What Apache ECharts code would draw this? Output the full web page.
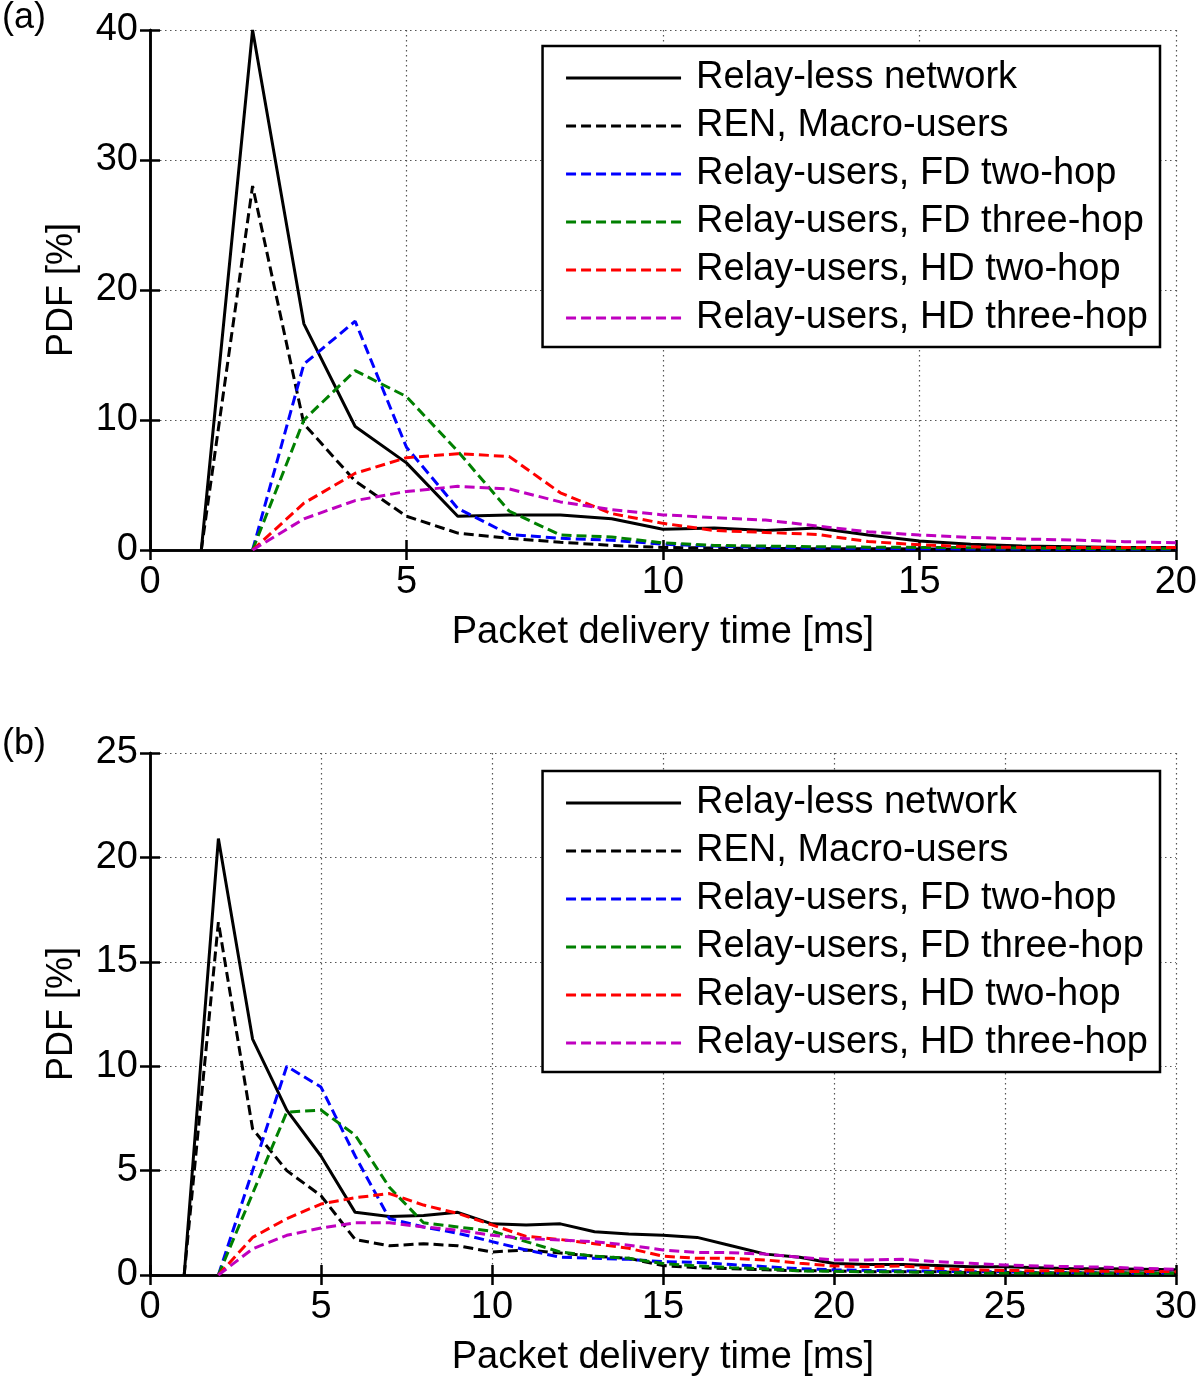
<!DOCTYPE html>
<html>
<head>
<meta charset="utf-8">
<script src="https://cdn.jsdelivr.net/npm/echarts@6/dist/echarts.min.js"></script>
<style>
html,body{margin:0;padding:0;background:#fff;}
#chart{width:1200px;height:1380px;}
</style>
</head>
<body>
<div id="chart"></div>
<script>
// ---------- data ----------
const seriesNames = [
  'Relay-less network',
  'REN, Macro-users',
  'Relay-users, FD two-hop',
  'Relay-users, FD three-hop',
  'Relay-users, HD two-hop',
  'Relay-users, HD three-hop'
];
const seriesColors = ['#000000', '#000000', '#0000ff', '#008000', '#ff0000', '#bf00bf'];

// panel (a): delivery time 1..20 ms
const timeA = [1,2,3,4,5,6,7,8,9,10,11,12,13,14,15,16,17,18,19,20];
const relayLessA = [0, 40, 17.4, 9.5, 6.7, 2.6, 2.7, 2.7, 2.4, 1.6, 1.7, 1.5, 1.7, 1.15, 0.7, 0.45, 0.3, 0.25, 0.2, 0.2];
const renMacroA  = [0, 28, 9.7, 5.3, 2.6, 1.3, 0.9, 0.6, 0.35, 0.2, 0.15, 0.12, 0.1, 0.1, 0.08, 0.07, 0.05, 0.05, 0.05, 0.05];
const fdTwoA     = [null, 0, 14.3, 17.6, 7.9, 3.2, 1.2, 0.9, 0.75, 0.45, 0.3, 0.2, 0.15, 0.12, 0.1, 0.08, 0.07, 0.06, 0.05, 0.05];
const fdThreeA   = [null, 0, 10.0, 13.8, 11.8, 7.6, 3.0, 1.15, 1.0, 0.55, 0.35, 0.3, 0.25, 0.22, 0.2, 0.18, 0.15, 0.12, 0.1, 0.1];
const hdTwoA     = [null, 0, 3.6, 5.9, 7.1, 7.4, 7.2, 4.4, 2.8, 2.05, 1.5, 1.35, 1.2, 0.65, 0.4, 0.25, 0.2, 0.2, 0.2, 0.2];
const hdThreeA   = [null, 0, 2.4, 3.8, 4.5, 4.9, 4.7, 3.7, 3.1, 2.7, 2.5, 2.3, 1.85, 1.4, 1.15, 0.97, 0.85, 0.77, 0.64, 0.56];

// panel (b): delivery time 1..30 ms
const timeB = [1,2,3,4,5,6,7,8,9,10,11,12,13,14,15,16,17,18,19,20,21,22,23,24,25,26,27,28,29,30];
const relayLessB = [0, 20.9, 11.3, 7.9, 5.7, 3.0, 2.8, 2.85, 3.0, 2.45, 2.4, 2.45, 2.07, 1.96, 1.9, 1.8, 1.4, 1.0, 0.85, 0.55, 0.5, 0.5, 0.45, 0.4, 0.4, 0.35, 0.3, 0.3, 0.28, 0.25];
const renMacroB  = [0, 16.9, 7.0, 5.0, 3.8, 1.7, 1.4, 1.5, 1.4, 1.1, 1.2, 1.05, 0.9, 0.8, 0.45, 0.35, 0.3, 0.25, 0.2, 0.2, 0.15, 0.15, 0.15, 0.12, 0.12, 0.1, 0.1, 0.1, 0.1, 0.1];
const fdTwoB     = [null, 0, 5.0, 10.0, 9.0, 5.7, 2.7, 2.3, 2.0, 1.6, 1.2, 0.85, 0.8, 0.75, 0.64, 0.6, 0.5, 0.4, 0.3, 0.25, 0.22, 0.2, 0.18, 0.15, 0.15, 0.12, 0.12, 0.1, 0.1, 0.1];
const fdThreeB   = [null, 0, 3.9, 7.8, 7.9, 6.7, 4.2, 2.5, 2.3, 2.1, 1.6, 1.1, 0.9, 0.8, 0.55, 0.43, 0.35, 0.3, 0.2, 0.18, 0.15, 0.15, 0.12, 0.1, 0.1, 0.1, 0.08, 0.08, 0.08, 0.08];
const hdTwoB     = [null, 0, 1.8, 2.7, 3.4, 3.7, 3.9, 3.35, 2.95, 2.4, 1.85, 1.7, 1.5, 1.28, 0.9, 0.8, 0.8, 0.72, 0.56, 0.43, 0.4, 0.43, 0.32, 0.24, 0.22, 0.2, 0.2, 0.18, 0.17, 0.16];
const hdThreeB   = [null, 0, 1.25, 1.9, 2.25, 2.5, 2.5, 2.3, 2.15, 1.9, 1.75, 1.67, 1.6, 1.43, 1.2, 1.08, 1.07, 1.0, 0.85, 0.72, 0.72, 0.75, 0.64, 0.56, 0.48, 0.43, 0.4, 0.37, 0.32, 0.27];

const panelA = [relayLessA, renMacroA, fdTwoA, fdThreeA, hdTwoA, hdThreeA];
const panelB = [relayLessB, renMacroB, fdTwoB, fdThreeB, hdTwoB, hdThreeB];

// axis settings
const xTicksA = {min: 0, max: 20, interval: 5};
const yTicksA = {min: 0, max: 40, interval: 10};
const xTicksB = {min: 0, max: 30, interval: 5};
const yTicksB = {min: 0, max: 25, interval: 5};

// ---------- build ----------
const FONT = 'Liberation Sans, Arial, sans-serif';
const chart = echarts.init(document.getElementById('chart'), null, {renderer: 'canvas'});

function pairs(xs, ys) {
  const out = [];
  xs.forEach((x, i) => { if (ys[i] !== null && ys[i] !== undefined) out.push([x, ys[i]]); });
  return out;
}

const frameLine = {show: true, lineStyle: {color: '#000', width: 2.5}};
const tickIn = {show: true, inside: true, length: 10, lineStyle: {color: '#000', width: 2.5}};
const gridSplit = {show: true, lineStyle: {color: '#555', width: 1.2, type: [1.5, 3.5]}};
const labelStyle = {color: '#000', fontSize: 38, fontFamily: FONT};

function mainX(grid, t) {
  return Object.assign({
    type: 'value', gridIndex: grid, position: 'bottom',
    axisLine: frameLine, axisTick: tickIn, splitLine: gridSplit,
    axisLabel: Object.assign({margin: 14}, labelStyle),
    name: 'Packet delivery time [ms]', nameLocation: 'middle', nameGap: 64,
    nameTextStyle: {color: '#000', fontSize: 38, fontFamily: FONT}
  }, t);
}
function mirrorX(grid, t) {
  return Object.assign({
    type: 'value', gridIndex: grid, position: 'top',
    axisLine: frameLine, axisTick: tickIn, splitLine: {show: false}, axisLabel: {show: false}
  }, t);
}
function mainY(grid, t) {
  return Object.assign({
    type: 'value', gridIndex: grid, position: 'left',
    axisLine: frameLine, axisTick: tickIn, splitLine: gridSplit,
    axisLabel: Object.assign({margin: 12}, labelStyle),
    name: 'PDF [%]', nameLocation: 'middle', nameGap: 70, nameRotate: 90,
    nameTextStyle: {color: '#000', fontSize: 36, fontFamily: FONT}
  }, t);
}
function mirrorY(grid, t) {
  return Object.assign({
    type: 'value', gridIndex: grid, position: 'right',
    axisLine: frameLine, axisTick: tickIn, splitLine: {show: false}, axisLabel: {show: false}
  }, t);
}

const series = [];
[[panelA, timeA, 0, 0], [panelB, timeB, 2, 2]].forEach(([panel, xs, xi, yi]) => {
  panel.forEach((ys, k) => {
    series.push({
      name: seriesNames[k],
      type: 'line',
      xAxisIndex: xi, yAxisIndex: yi,
      data: pairs(xs, ys),
      symbol: 'none', showSymbol: false,
      lineStyle: {color: seriesColors[k], width: 3, type: k === 0 ? 'solid' : [10, 5]},
      itemStyle: {color: seriesColors[k]},
      z: 3 + k
    });
  });
});

function legendAt(top) {
  return {
    show: true, orient: 'vertical', right: 40, top: top,
    data: seriesNames,
    itemWidth: 115, itemHeight: 24, itemGap: 8,
    padding: [12, 12, 9, 22],
    borderColor: '#000', borderWidth: 2.5, backgroundColor: '#fff',
    selectedMode: false,
    itemStyle: {opacity: 0},
    lineStyle: {width: 3},
    textStyle: {color: '#000', fontSize: 38, fontFamily: FONT, lineHeight: 40, padding: [0, 0, 0, 10]},
    z: 20
  };
}

const option = {
  animation: false,
  backgroundColor: '#fff',
  grid: [
    {left: 150, top: 30, width: 1030, height: 520, containLabel: false},
    {left: 150, top: 753, width: 1030, height: 522, containLabel: false}
  ],
  xAxis: [mainX(0, xTicksA), mirrorX(0, xTicksA), mainX(1, xTicksB), mirrorX(1, xTicksB)],
  yAxis: [mainY(0, yTicksA), mirrorY(0, yTicksA), mainY(1, yTicksB), mirrorY(1, yTicksB)],
  legend: [legendAt(46), legendAt(771)],
  graphic: [
    {type: 'text', left: 2, top: 0, style: {text: '(a)', fill: '#000', fontSize: 36, fontFamily: FONT}},
    {type: 'text', left: 2, top: 726, style: {text: '(b)', fill: '#000', fontSize: 36, fontFamily: FONT}}
  ],
  series: series
};
chart.setOption(option);
</script>
</body>
</html>
